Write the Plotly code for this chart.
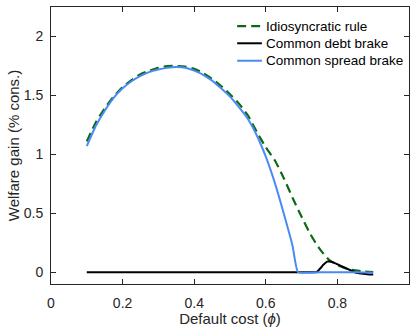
import plotly.graph_objects as go

# Idiosyncratic rule
phi_idio = [0.1, 0.125, 0.15, 0.175, 0.2, 0.225, 0.25, 0.275, 0.3, 0.325, 0.35, 0.375,
            0.4, 0.425, 0.45, 0.475, 0.5, 0.525, 0.55, 0.575, 0.6, 0.625, 0.65, 0.675,
            0.7, 0.725, 0.75, 0.775, 0.8, 0.825, 0.85, 0.875, 0.9]
gain_idio = [1.11, 1.27, 1.39, 1.49, 1.57, 1.63, 1.68, 1.71, 1.735, 1.748, 1.75, 1.745,
             1.725, 1.69, 1.64, 1.58, 1.51, 1.43, 1.33, 1.19, 1.06, 0.95, 0.80, 0.63,
             0.47, 0.32, 0.20, 0.11, 0.06, 0.03, 0.015, 0.005, 0.0]

# Common debt brake
phi_debt = [0.1, 0.5, 0.74, 0.745, 0.75, 0.755, 0.76, 0.765, 0.77, 0.775, 0.78, 0.785,
            0.79, 0.8, 0.81, 0.82, 0.83, 0.84, 0.85, 0.86, 0.87, 0.88, 0.89, 0.9]
gain_debt = [0.0, 0.0, 0.0, 0.008, 0.022, 0.042, 0.062, 0.078, 0.088, 0.092, 0.091, 0.087,
             0.081, 0.067, 0.05, 0.034, 0.02, 0.008, -0.002, -0.009, -0.014, -0.017,
             -0.019, -0.02]

# Common spread brake
phi_spread = [0.1, 0.125, 0.15, 0.175, 0.2, 0.225, 0.25, 0.275, 0.3, 0.325, 0.35, 0.375,
              0.4, 0.425, 0.45, 0.475, 0.5, 0.525, 0.55, 0.575, 0.6, 0.625, 0.65, 0.675,
              0.69, 0.75, 0.8, 0.85, 0.9]
gain_spread = [1.07, 1.24, 1.37, 1.48, 1.56, 1.62, 1.665, 1.70, 1.72, 1.735, 1.74, 1.735,
               1.71, 1.675, 1.625, 1.56, 1.49, 1.40, 1.30, 1.16, 0.98, 0.76, 0.50, 0.22,
               0.0, 0.0, 0.0, 0.0, -0.004]

series_names = ["Idiosyncratic rule", "Common debt brake", "Common spread brake"]

x_ticks = [0, 0.2, 0.4, 0.6, 0.8, 1]
x_tick_labels = ["0", "0.2", "0.4", "0.6", "0.8", "1"]
y_ticks = [0, 0.5, 1, 1.5, 2]
y_tick_labels = ["0", "0.5", "1", "1.5", "2"]

FONT = "Liberation Sans, Arial, sans-serif"
AX = "#262626"
GREEN = "#0c6b12"
BLACK = "#000000"
BLUE = "#4a8af5"

fig = go.Figure()
fig.add_trace(go.Scatter(x=phi_idio, y=gain_idio, mode="lines", name=series_names[0],
                         line=dict(color=GREEN, width=2.2, dash="9px,5px", shape="spline", smoothing=0.6)))
fig.add_trace(go.Scatter(x=phi_debt, y=gain_debt, mode="lines", name=series_names[1],
                         line=dict(color=BLACK, width=2)))
fig.add_trace(go.Scatter(x=phi_spread, y=gain_spread, mode="lines", name=series_names[2],
                         line=dict(color=BLUE, width=2, shape="spline", smoothing=0.4)))

# Legend drawn inside the axes (top right), no box
leg_rows = [0.931, 0.869, 0.806]
leg_styles = [dict(color=GREEN, width=2.2, dash="9px,5px"),
              dict(color=BLACK, width=2), dict(color=BLUE, width=2)]
for yy, nm, st in zip(leg_rows, series_names, leg_styles):
    fig.add_shape(type="line", xref="paper", yref="paper", x0=0.52, x1=0.589, y0=yy, y1=yy,
                  line=st)
    fig.add_annotation(xref="paper", yref="paper", x=0.594, y=yy, text=nm, showarrow=False,
                       xanchor="left", yanchor="middle",
                       font=dict(family=FONT, size=13.5, color="#000000"))

fig.update_layout(
    width=411, height=327,
    margin=dict(l=51, r=2, t=7, b=43),
    paper_bgcolor="white", plot_bgcolor="white",
    font=dict(family=FONT, size=14, color=AX),
    showlegend=False,
)
fig.update_xaxes(range=[0, 1], tickvals=x_ticks, ticktext=x_tick_labels,
                 showline=True, linecolor=AX, linewidth=1, mirror="ticks",
                 ticks="inside", ticklen=5, tickcolor=AX, showgrid=False, zeroline=False,
                 ticklabelstandoff=6, tickfont=dict(size=14),
                 title=dict(text="Default cost (<i>ϕ</i>)", standoff=2,
                            font=dict(family=FONT, size=15, color=AX)))
fig.update_yaxes(range=[-0.1, 2.25], tickvals=y_ticks, ticktext=y_tick_labels,
                 showline=True, linecolor=AX, linewidth=1, mirror="ticks",
                 ticks="inside", ticklen=5, tickcolor=AX, showgrid=False, zeroline=False,
                 ticklabelstandoff=4, tickfont=dict(size=14),
                 title=dict(text="Welfare gain (% cons.)", standoff=0,
                            font=dict(family=FONT, size=15, color=AX)))

fig.write_html("out.html")
